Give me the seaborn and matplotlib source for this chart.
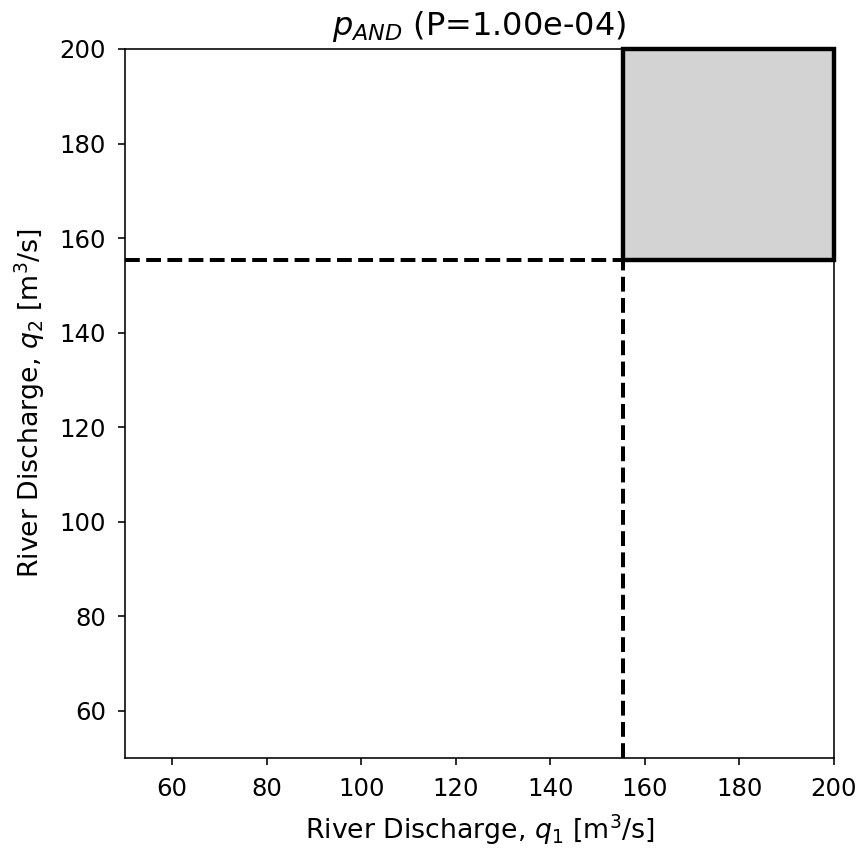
import matplotlib
matplotlib.use("Agg")
import matplotlib.pyplot as plt
import matplotlib.patches as mpatches
import seaborn as sns

# Data
q_min = 50
q_max = 200
threshold_q1 = 155.4
threshold_q2 = 155.4
probability = 1.00e-04
x_ticks = [60, 80, 100, 120, 140, 160, 180, 200]
y_ticks = [60, 80, 100, 120, 140, 160, 180, 200]

sns.set_style("ticks")
plt.rcParams['font.family'] = ['DejaVu Sans']
plt.rcParams['font.size'] = 12
plt.rcParams['text.color'] = 'black'
plt.rcParams['axes.labelcolor'] = 'black'

DPI = 144
fig = plt.figure(figsize=(866 / DPI, 849 / DPI), dpi=DPI)
ax = fig.add_axes([0.1443, 0.1072, 0.963 - 0.1443, 0.9423 - 0.1072])

# shaded AND region
rect = mpatches.Rectangle((threshold_q1, threshold_q2), q_max - threshold_q1, q_max - threshold_q2,
                          facecolor='lightgrey', edgecolor='black', linewidth=2.2, clip_on=False, zorder=3)
ax.add_patch(rect)

# dashed threshold lines
sns.lineplot(x=[q_min, threshold_q1], y=[threshold_q2, threshold_q2], ax=ax,
             color='black', linestyle='--', linewidth=2, zorder=2,
             estimator=None, sort=False)
sns.lineplot(x=[threshold_q1, threshold_q1], y=[q_min, threshold_q2], ax=ax,
             color='black', linestyle='--', linewidth=2, zorder=2,
             estimator=None, sort=False)

ax.set_xlim(q_min, q_max)
ax.set_ylim(q_min, q_max)
ax.set_xticks(x_ticks)
ax.set_yticks(y_ticks)
for s in ax.spines.values():
    s.set_linewidth(0.8)
    s.set_color('black')
ax.tick_params(axis='both', colors='black', labelsize=12.2, length=3.5, width=0.8, pad=6)

ax.set_xlabel(r'River Discharge, $q_1$ [m$^3$/s]', fontsize=13.4, labelpad=6)
ax.set_ylabel(r'River Discharge, $q_2$ [m$^3$/s]', fontsize=13.4, labelpad=6)
ax.set_title(r'$p_{AND}$ (P=' + f'{probability:.2e}' + ')', fontsize=16, pad=7)

fig.savefig('out.png', dpi=DPI)
